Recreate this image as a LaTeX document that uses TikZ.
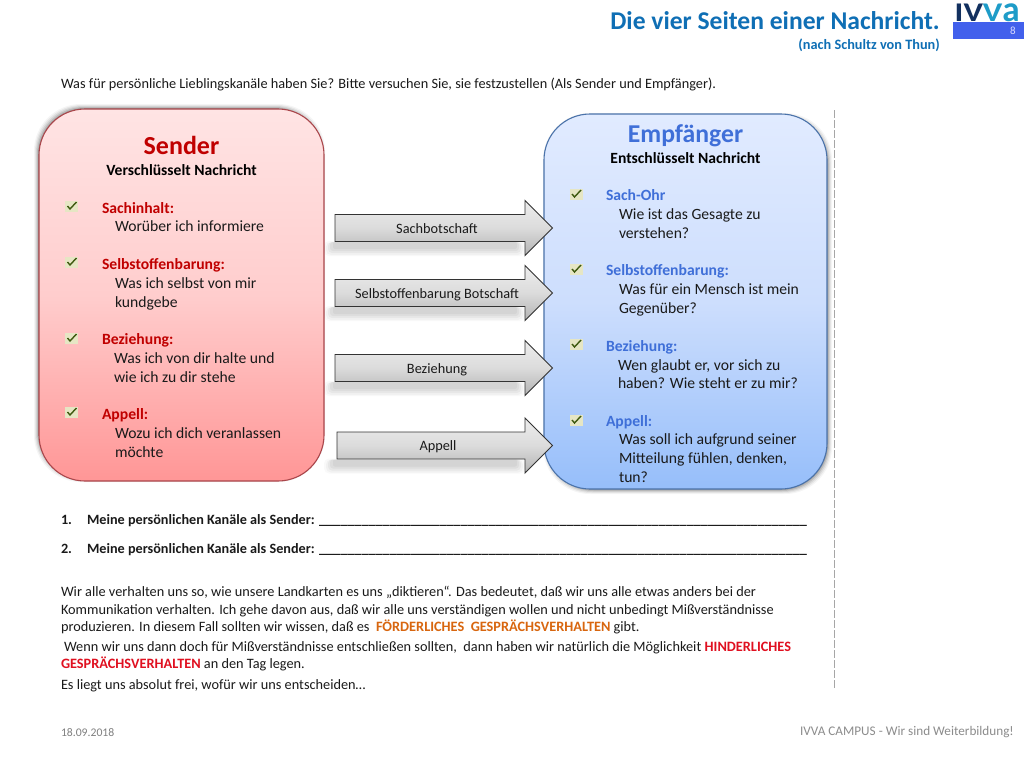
\documentclass[tikz,border=0pt]{standalone}
\usepackage{graphicx}
\usepackage{fontspec}
\setmainfont{Carlito}
\usetikzlibrary{calc}
\definecolor{hdrblue}{HTML}{0F6FB5}
\definecolor{sendred}{HTML}{C00000}
\definecolor{recvblue}{HTML}{3F6FD8}
\definecolor{bodyk}{HTML}{1A1A1A}
\definecolor{orangeT}{HTML}{D8660F}
\definecolor{redT}{HTML}{E01020}
\definecolor{chkbg}{HTML}{E6E6C4}
\definecolor{chkfg}{HTML}{3F5A10}
\tikzset{
  x=1pt,y=-1pt,
  txt/.style={anchor=base west,inner sep=0pt,outer sep=0pt,font=\fontsize{14.3}{15}\selectfont,text=bodyk},
  boxt/.style={txt,font=\fontsize{15.65}{17}\selectfont},
  small/.style={txt,font=\fontsize{14.3}{15}\selectfont},
  smallb/.style={txt,font=\fontsize{14.2}{15}\selectfont\bfseries},
  cent/.style={anchor=base,inner sep=0pt,outer sep=0pt},
  sendh/.style={boxt,text=sendred},
  recvh/.style={boxt,text=recvblue},
  arrowbody/.style={draw=black!80,line width=0.9pt,top color=black!7,bottom color=black!30,middle color=black!14},
  arrowlabel/.style={cent,font=\fontsize{14.3}{15}\selectfont,text=bodyk},
}
\newcommand{\softshadow}[6]{% x1 y1 x2 y2 dx dy
  \foreach \s/\o in {3/0.04,2/0.06,1/0.08,0/0.11,-1/0.14}{
    \fill[black,opacity=\o,rounded corners=47pt] (#1-\s+#5,#2-\s+#6) rectangle (#3+\s+#5,#4+\s+#6);
  }
}
\newcommand{\chk}[3]{% name x y centre
  \node[fill=chkbg,minimum width=13pt,minimum height=11pt,inner sep=0pt] (#1) at (#2,#3) {};
  \draw[chkfg,line width=1.4pt] (#2-4,#3) -- (#2-1.5,#3+3) -- (#2+5,#3-4);
}
\newcommand{\blockarrow}[6]{% name left cy text shadowleft shadowright
  \fill[black,opacity=0.025,rounded corners=5pt] (#5-2,#3+13) rectangle (#6+2,#3+28);
  \fill[black,opacity=0.03,rounded corners=5pt] (#5,#3+14) rectangle (#6,#3+27);
  \fill[black,opacity=0.04,rounded corners=4pt] (#5+2,#3+14) rectangle (#6-2,#3+25);
  \fill[black,opacity=0.04,rounded corners=3pt] (#5+4,#3+14) rectangle (#6-4,#3+23);
  \fill[black,opacity=0.04,rounded corners=2pt] (#5+7,#3+14) rectangle (#6-6,#3+21);
  \draw[arrowbody] (#2,#3-13.5) -- (525,#3-13.5) -- (525,#3-27.5) -- (552.5,#3) -- (525,#3+27.5) -- (525,#3+13.5) -- (#2,#3+13.5) -- cycle;
  \node[arrowlabel] (#1) at ({(#2+525)/2+7},#3+5) {#4};
}
\begin{document}
\begin{tikzpicture}
\useasboundingbox (0,0) rectangle (1024,768);
\fill[white] (0,0) rectangle (1024,768);
% title
\node[anchor=base east,inner sep=0pt,font=\fontsize{25.6}{28}\selectfont\bfseries,text=hdrblue] (title) at (940,30) {Die vier Seiten einer Nachricht.};
\node[anchor=base east,inner sep=0pt,font=\fontsize{14.3}{15}\selectfont\bfseries,text=hdrblue] (subtitle) at (940,49) {(nach Schultz von Thun)};
% logo
\node[anchor=base west,inner sep=0pt,font=\fontsize{27}{28}\selectfont\bfseries] (logo1) at (954.5,22) {\textcolor[HTML]{12305F}{\scalebox{1.22}[1]{IV}}\textcolor[HTML]{1E9CC8}{\scalebox{1.22}[1]{V}\scalebox{1.3}[1.33]{a}}};
\fill[fill={rgb,255:red,66;green,96;blue,236}] (953,22) rectangle (1024,39);
\node[cent,font=\fontsize{11}{12}\selectfont,text=white!85!blue] (pagenum) at (1013,34.5) {8};
% intro
\node[small] (intro) at (61,88) {Was für persönliche Lieblingskanäle haben Sie? Bitte versuchen Sie, sie festzustellen (Als Sender und Empfänger).};
% dashed
\coordinate (dashA) at (834,110);
\coordinate (dashB) at (834,688);
\draw[black!35,line width=0.8pt,dash pattern=on 8pt off 2pt] (dashA) -- (dashB);
% Sender box
\softshadow{39}{109}{324}{481}{-2}{-2}
\draw[draw={rgb,255:red,170;green,70;blue,75},line width=1.1pt,top color={rgb,255:red,255;green,228;blue,228},bottom color={rgb,255:red,255;green,150;blue,150},middle color={rgb,255:red,255;green,205;blue,205},rounded corners=46pt] (39,109) rectangle (324,481);
\node[cent,font=\fontsize{26}{30}\selectfont\bfseries,text=sendred] (s0) at (181.5,154) {Sender};
\node[cent,font=\fontsize{15.6}{17}\selectfont\bfseries,text=black] (s1) at (181.5,175) {Verschlüsselt Nachricht};
\chk{sc1}{71.5}{206}\chk{sc2}{71.5}{262}\chk{sc3}{71.5}{338}\chk{sc4}{71.5}{412}
\node[sendh] (s2) at (102,213) {\bfseries Sachinhalt:};
\node[boxt] (s3) at (115,231) {Worüber ich informiere};
\node[sendh] (s4) at (102,269) {\bfseries Selbstoffenbarung:};
\node[boxt] (s5) at (115,288) {Was ich selbst von mir};
\node[boxt] (s6) at (115,307) {kundgebe};
\node[sendh] (s7) at (102,344) {\bfseries Beziehung:};
\node[boxt] (s8) at (114,363) {Was ich von dir halte und};
\node[boxt] (s9) at (114,382) {wie ich zu dir stehe};
\node[sendh] (s10) at (102,419) {\bfseries Appell:};
\node[boxt] (s11) at (115,438) {Wozu ich dich veranlassen};
\node[boxt] (s12) at (115,457) {möchte};
% Receiver box
\softshadow{544}{114}{827}{489}{2}{2}
\draw[draw={rgb,255:red,75;green,115;blue,170},line width=1.1pt,top color={rgb,255:red,225;green,235;blue,255},bottom color={rgb,255:red,150;green,190;blue,250},middle color={rgb,255:red,205;green,222;blue,253},rounded corners=46pt] (544,114) rectangle (827,489);
\node[cent,font=\fontsize{25.7}{28}\selectfont\bfseries,text=recvblue] (r0) at (685.5,142) {Empfänger};
\node[cent,font=\fontsize{15.6}{17}\selectfont\bfseries,text=black] (r1) at (685.5,163) {Entschlüsselt Nachricht};
\chk{rc1}{576}{194}\chk{rc2}{576}{269}\chk{rc3}{576}{344}\chk{rc4}{576}{420}
\node[recvh] (r2) at (606,200) {\bfseries Sach-Ohr};
\node[boxt] (r3) at (619,219) {Wie ist das Gesagte zu};
\node[boxt] (r4) at (619,238) {verstehen?};
\node[recvh] (r5) at (606,275) {\bfseries Selbstoffenbarung:};
\node[boxt] (r6) at (619,294) {Was für ein Mensch ist mein};
\node[boxt] (r7) at (619,313) {Gegenüber?};
\node[recvh] (r8) at (606,351) {\bfseries Beziehung:};
\node[boxt] (r9) at (618,370) {Wen glaubt er, vor sich zu};
\node[boxt] (r10) at (618,388) {haben? Wie steht er zu mir?};
\node[recvh] (r11) at (606,426) {\bfseries Appell:};
\node[boxt] (r12) at (619,444) {Was soll ich aufgrund seiner};
\node[boxt] (r13) at (619,463) {Mitteilung fühlen, denken,};
\node[boxt] (r14) at (619,482) {tun?};
% arrows
\blockarrow{a1}{335}{228}{Sachbotschaft}{326}{523}
\blockarrow{a2}{335}{293}{Selbstoffenbarung Botschaft}{326}{523}
\blockarrow{a3}{335}{368}{Beziehung}{326}{523}
\blockarrow{a4}{337}{445.5}{Appell}{326}{523}
% blanks
\node[smallb] (n1) at (61,524) {1.};
\node[smallb] (l1) at (87,524) {Meine persönlichen Kanäle als Sender: \_\_\_\_\_\_\_\_\_\_\_\_\_\_\_\_\_\_\_\_\_\_\_\_\_\_\_\_\_\_\_\_\_\_\_\_\_\_\_\_\_\_\_\_\_\_\_\_\_\_\_\_\_\_\_\_\_\_\_\_\_\_\_\_\_\_\_\_\_};
\node[smallb] (n2) at (61,553) {2.};
\node[smallb] (l2) at (87,553) {Meine persönlichen Kanäle als Sender: \_\_\_\_\_\_\_\_\_\_\_\_\_\_\_\_\_\_\_\_\_\_\_\_\_\_\_\_\_\_\_\_\_\_\_\_\_\_\_\_\_\_\_\_\_\_\_\_\_\_\_\_\_\_\_\_\_\_\_\_\_\_\_\_\_\_\_\_\_};
% paragraph
\node[small] (p1) at (61,596) {Wir alle verhalten uns so, wie unsere Landkarten es uns „diktieren“. Das bedeutet, daß wir uns alle etwas anders bei der};
\node[small] (p2) at (61,614) {Kommunikation verhalten. Ich gehe davon aus, daß wir alle uns verständigen wollen und nicht unbedingt Mißverständnisse};
\node[small] (p3) at (61,631) {produzieren. In diesem Fall sollten wir wissen, daß es \ \textcolor{orangeT}{\bfseries FÖRDERLICHES\ \ GESPRÄCHSVERHALTEN} gibt.};
\node[small] (p4) at (64,651) {Wenn wir uns dann doch für Mißverständnisse entschließen sollten,\ \ dann haben wir natürlich die Möglichkeit \textcolor{redT}{\bfseries HINDERLICHES}};
\node[small] (p5) at (61,668) {\textcolor{redT}{\bfseries GESPRÄCHSVERHALTEN} an den Tag legen.};
\node[small] (p6) at (61,689) {Es liegt uns absolut frei, wofür wir uns entscheiden…};
% footer
\node[txt,font=\fontsize{11.7}{12}\selectfont,text=black!50] (date) at (61,736) {18.09.2018};
\node[anchor=base east,inner sep=0pt,font=\fontsize{13.2}{14}\selectfont,text=black!45] (foot) at (1014,735) {IVVA CAMPUS - Wir sind Weiterbildung!};
\end{tikzpicture}
\end{document}
